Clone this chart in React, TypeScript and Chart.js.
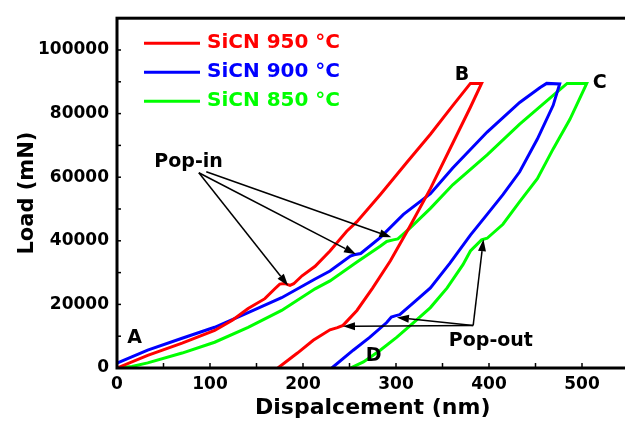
import React, { useEffect, useRef } from "react";
import { Chart, registerables } from "chart.js";

Chart.register(...registerables);

// ---- data (displacement nm, load mN) ----
const sicn950X = [0, 33, 70, 105, 124, 141, 159, 170, 175, 180, 186, 190, 199, 213, 229, 247, 258, 283, 312, 337, 361, 380, 392,
  380, 359, 337, 315, 294, 275, 258, 243, 237, 229, 211, 194, 173];
const sicn950Y = [0, 4000, 7800, 11800, 15000, 18700, 21800, 25000, 26400, 26600, 26000, 26500, 29000, 32000, 36800, 43000, 46000, 54500, 64800, 73500, 82500, 89500, 89500,
  82000, 69500, 56400, 44600, 33700, 25200, 18100, 13400, 12700, 12000, 8700, 4700, 0];

const sicn900X = [0, 33, 70, 105, 141, 177, 213, 229, 251, 255, 262, 283, 308, 337, 361, 398, 433, 455, 462, 476,
  469, 452, 433, 415, 398, 380, 358, 337, 318, 304, 299, 295, 290, 272, 254, 231];
const sicn900Y = [1500, 5600, 9350, 12800, 17400, 22100, 28000, 30500, 35200, 35600, 36000, 41000, 48300, 54800, 62900, 74200, 83500, 88200, 89500, 89300,
  82600, 72000, 61700, 54500, 48300, 41800, 33000, 25200, 20300, 16800, 16400, 16000, 14300, 9700, 5600, 0];

const sicn850X = [0, 16, 33, 70, 105, 141, 177, 213, 229, 258, 283, 290, 297, 302, 315, 337, 361, 398, 433, 469, 484, 505,
  503, 487, 469, 452, 433, 415, 398, 392, 380, 372, 355, 337, 318, 301, 283, 265, 251];
const sicn850Y = [0, 500, 1600, 4700, 8100, 12800, 18100, 24900, 27400, 33300, 38300, 39800, 40300, 40600, 44000, 50200, 57600, 67000, 76700, 85700, 89500, 89500,
  88200, 78200, 68900, 59500, 52300, 45200, 40800, 40300, 36800, 32500, 25200, 19000, 14000, 9700, 5600, 1900, 0];

const seriesNames = ["SiCN 950 \u00B0C", "SiCN 900 \u00B0C", "SiCN 850 \u00B0C"];
const seriesColors = ["#ff0000", "#0000ff", "#00ff00"];

const xTickValues = [0, 100, 200, 300, 400, 500];
const yTickValues = [0, 20000, 40000, 60000, 80000, 100000];

// annotation anchors in data units
const pointLabels = [
  { text: "A", x: 19, y: 9300 },
  { text: "B", x: 371, y: 92200 },
  { text: "C", x: 519, y: 89700 },
  { text: "D", x: 276, y: 3700 },
  { text: "Pop-in", x: 77, y: 64800 },
  { text: "Pop-out", x: 402, y: 8400 },
];
const popInArrows = [
  { fx: 88, fy: 61400, tx: 184, ty: 25900 },
  { fx: 88, fy: 61400, tx: 257, ty: 35800 },
  { fx: 96, fy: 61700, tx: 295, ty: 41100 },
];
const popOutArrows = [
  { fx: 383, fy: 13400, tx: 243, ty: 13100 },
  { fx: 383, fy: 13400, tx: 301, ty: 15900 },
  { fx: 383, fy: 13400, tx: 394, ty: 40500 },
];

const FONT = "'DejaVu Sans', sans-serif";

function toPoints(xs: number[], ys: number[]) {
  return xs.map((x, i) => ({ x, y: ys[i] }));
}

const decorPlugin = {
  id: "decor",
  afterDatasetsDraw(chart: any) {
    const { ctx, chartArea, scales } = chart;
    const xs = scales.x;
    const ys = scales.y;
    const { left, top, right, bottom } = chartArea;
    ctx.save();
    // inner ticks
    ctx.strokeStyle = "#000";
    ctx.lineWidth = 1.5;
    for (let v = 50; v < 550; v += 50) {
      const px = xs.getPixelForValue(v);
      ctx.beginPath();
      ctx.moveTo(px, bottom);
      ctx.lineTo(px, bottom - 5);
      ctx.stroke();
    }
    for (let v = 10000; v < 110000; v += 10000) {
      const py = ys.getPixelForValue(v);
      ctx.beginPath();
      ctx.moveTo(left, py);
      ctx.lineTo(left + 4, py);
      ctx.stroke();
    }
    // frame
    ctx.lineWidth = 3;
    ctx.strokeRect(left, top, right - left, bottom - top);

    // legend
    ctx.font = `bold 20px ${FONT}`;
    ctx.textBaseline = "middle";
    ctx.textAlign = "left";
    seriesNames.forEach((name, i) => {
      const y = top + 25 + i * 29;
      ctx.strokeStyle = seriesColors[i];
      ctx.lineWidth = 3;
      ctx.beginPath();
      ctx.moveTo(left + 27, y);
      ctx.lineTo(left + 83, y);
      ctx.stroke();
      ctx.fillStyle = seriesColors[i];
      ctx.fillText(name, left + 90, y);
    });

    // labels
    ctx.fillStyle = "#000";
    ctx.font = `bold 19px ${FONT}`;
    ctx.textAlign = "center";
    pointLabels.forEach((l) => {
      ctx.fillText(l.text, xs.getPixelForValue(l.x), ys.getPixelForValue(l.y));
    });

    // arrows
    const arrow = (a: any) => {
      const x1 = xs.getPixelForValue(a.fx), y1 = ys.getPixelForValue(a.fy);
      const x2 = xs.getPixelForValue(a.tx), y2 = ys.getPixelForValue(a.ty);
      const ang = Math.atan2(y2 - y1, x2 - x1);
      const len = 12, hw = 4;
      const bx = x2 - len * Math.cos(ang), by = y2 - len * Math.sin(ang);
      ctx.strokeStyle = "#000";
      ctx.lineWidth = 1.5;
      ctx.beginPath();
      ctx.moveTo(x1, y1);
      ctx.lineTo(bx, by);
      ctx.stroke();
      ctx.fillStyle = "#000";
      ctx.beginPath();
      ctx.moveTo(x2, y2);
      ctx.lineTo(bx + hw * Math.sin(ang), by - hw * Math.cos(ang));
      ctx.lineTo(bx - hw * Math.sin(ang), by + hw * Math.cos(ang));
      ctx.closePath();
      ctx.fill();
    };
    popInArrows.forEach(arrow);
    popOutArrows.forEach(arrow);
    ctx.restore();
  },
};

export default function App() {
  const ref = useRef<HTMLCanvasElement | null>(null);
  useEffect(() => {
    if (!ref.current) return;
    const datasets = [
      toPoints(sicn950X, sicn950Y),
      toPoints(sicn900X, sicn900Y),
      toPoints(sicn850X, sicn850Y),
    ].map((data, i) => ({
      label: seriesNames[i],
      data,
      borderColor: seriesColors[i],
      backgroundColor: seriesColors[i],
      borderWidth: 3,
      pointRadius: 0,
      showLine: true,
      tension: 0,
      fill: false,
    }));
    const chart = new Chart(ref.current, {
      type: "scatter",
      data: { datasets },
      options: {
        animation: false,
        responsive: false,
        layout: { padding: { left: 0, top: 15, right: 11.5, bottom: 0 } },
        plugins: { legend: { display: false }, tooltip: { enabled: false } },
        scales: {
          x: {
            type: "linear",
            min: 0,
            max: 550,
            afterBuildTicks: (s: any) => {
              s.ticks = xTickValues.map((v) => ({ value: v }));
            },
            afterFit: (s: any) => {
              s.height = 53;
            },
            grid: { display: false, drawTicks: false },
            border: { display: false },
            ticks: {
              color: "#000",
              padding: 6,
              maxRotation: 0,
              callback: (v: any) => String(v),
              font: { family: FONT, size: 17, weight: "bold" },
            },
            title: {
              display: true,
              text: "Dispalcement (nm)",
              color: "#000",
              padding: { top: 0, bottom: 0 },
              font: { family: FONT, size: 22, weight: "bold" },
            },
          },
          y: {
            type: "linear",
            min: 0,
            max: 110000,
            afterBuildTicks: (s: any) => {
              s.ticks = yTickValues.map((v) => ({ value: v }));
            },
            afterFit: (s: any) => {
              s.width = 117;
            },
            grid: { display: false, drawTicks: false },
            border: { display: false },
            ticks: {
              color: "#000",
              padding: 8,
              callback: (v: any) => String(v),
              font: { family: FONT, size: 17, weight: "bold" },
            },
            title: {
              display: true,
              text: "Load (mN)",
              color: "#000",
              padding: { top: 15, bottom: 0 },
              font: { family: FONT, size: 21, weight: "bold" },
            },
          },
        },
      },
      plugins: [decorPlugin],
    } as any);
    return () => chart.destroy();
  }, []);
  return (
    <div style={{ position: "fixed", left: 0, top: 0, width: 625, height: 421, overflow: "hidden", background: "#fff" }}>
      <canvas ref={ref} width={640} height={421} style={{ display: "block" }} />
    </div>
  );
}
